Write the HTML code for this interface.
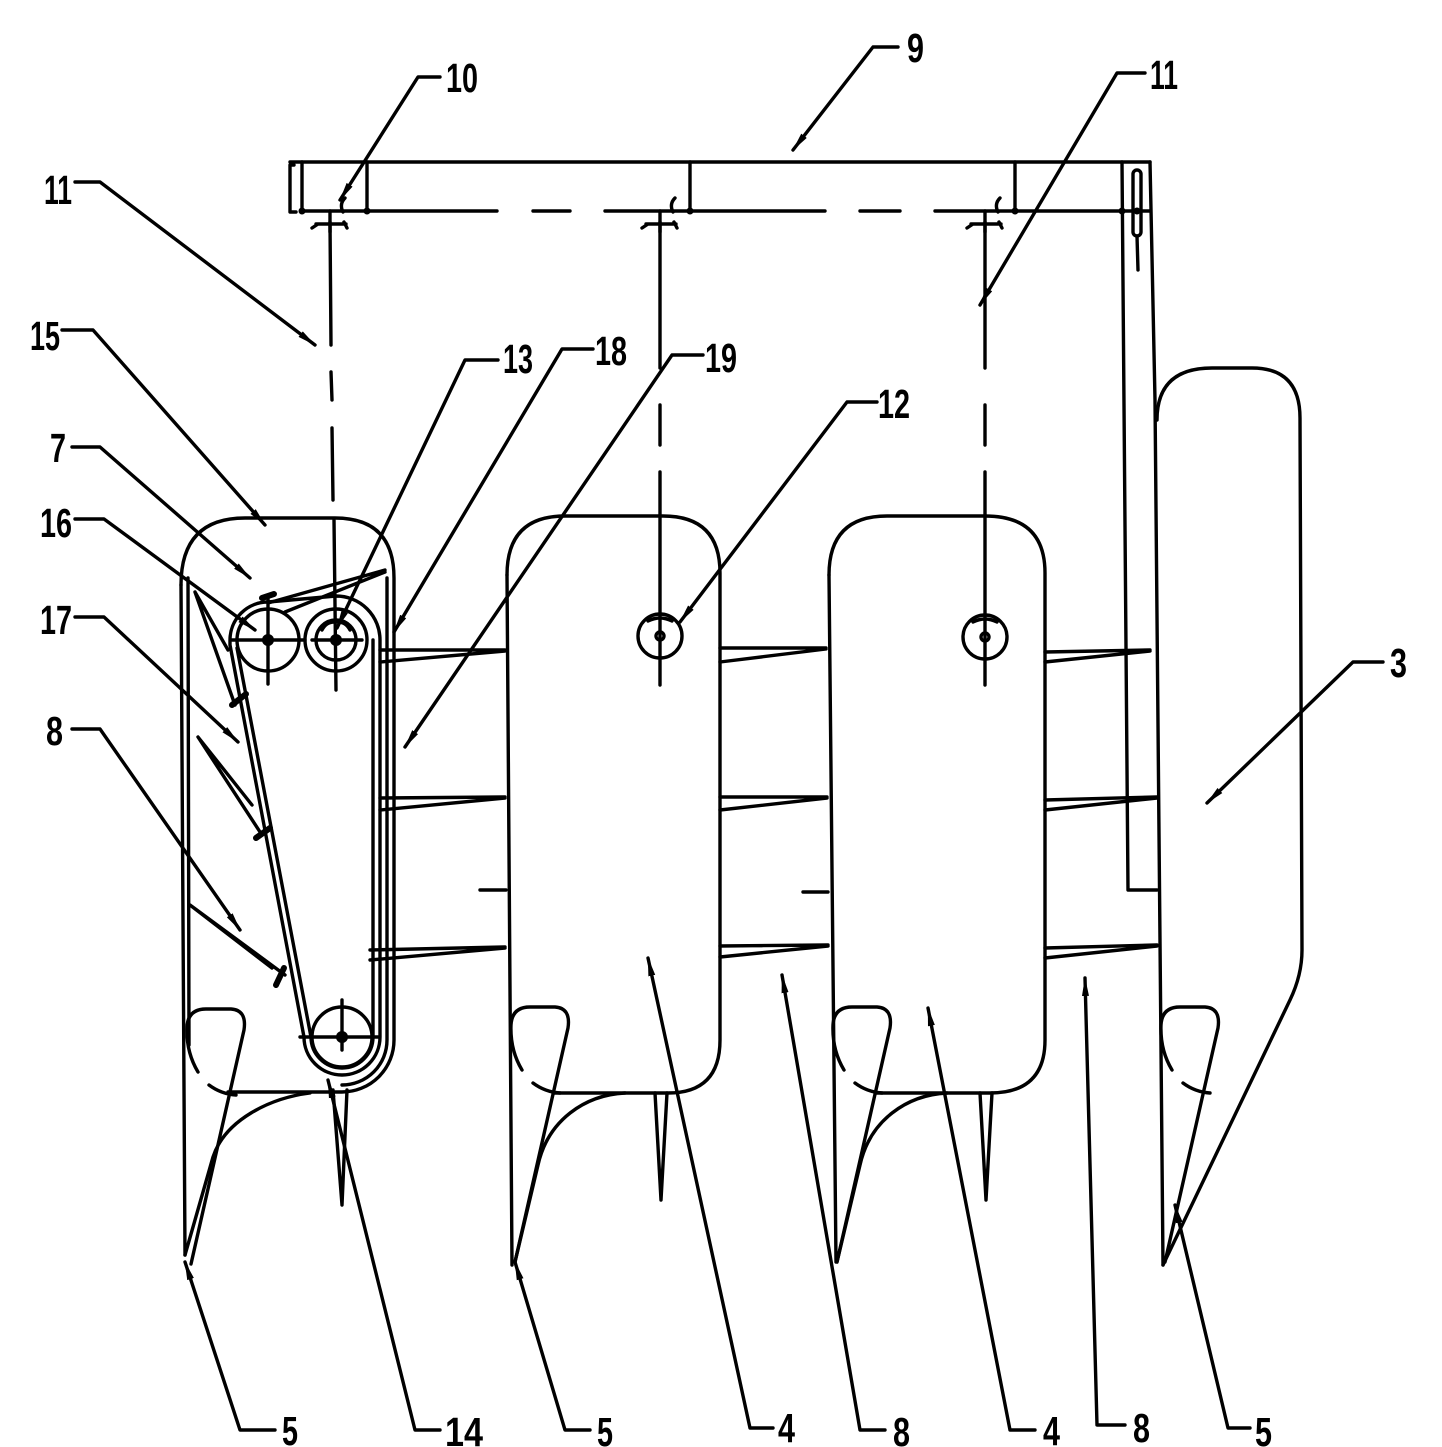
<!DOCTYPE html>
<html><head><meta charset="utf-8"><style>
html,body{margin:0;padding:0;background:#fff;}
svg{display:block;}
text{font-family:"Liberation Sans Narrow","Liberation Sans",sans-serif;font-weight:bold;font-size:41px;fill:#000;}
</style></head><body>
<svg width="1442" height="1447" viewBox="0 0 1442 1447" xmlns="http://www.w3.org/2000/svg">
<defs>
<marker id="a" markerUnits="userSpaceOnUse" markerWidth="20" markerHeight="10" refX="18" refY="5" orient="auto"><path d="M0,1.5 L19,5 L0,8.5 Z" fill="#000"/></marker>
<g id="tipshape">
<path d="M522,1070 Q510,1050 511,1025 Q512,1007 530,1007 L555,1007 Q571,1008 568,1028 L515,1262"/>
<path d="M533,1083 Q545,1092 560,1093"/>
</g>
</defs>
<g fill="none" stroke="#000" stroke-width="3.4" stroke-linecap="round" stroke-linejoin="round">

<!-- top frame -->
<path d="M290,162 L1150,162"/>
<path d="M294,165 L290,165 L290,212 L296,212"/>
<path d="M302,162 L302,212 M367,162 L367,212 M690,162 L690,212 M1015,162 L1015,212"/>
<path d="M302,211 L497,211 M533,211 L570,211 M605,211 L825,211 M860,211 L900,211 M935,211 L1150,211"/>
<path d="M1122,162 L1128,890 L1157,890"/>
<path d="M1150,162 L1155,400 L1163,1265"/>
<rect x="1133" y="170" width="8" height="66" rx="4"/>
<path d="M1137,236 L1138,270"/>

<!-- hangers -->
<path d="M316,224 L346,224 M318,224 l-6,4 M344,222 l3,6 M330,211 L330,232"/>
<path d="M343,212 q-4,-8 2,-14"/>
<path d="M646,224 L676,224 M648,224 l-6,4 M674,222 l3,6 M660,211 L660,232"/>
<path d="M673,212 q-4,-8 2,-14"/>
<path d="M971,224 L1001,224 M973,224 l-6,4 M999,222 l3,6 M985,211 L985,232"/>
<path d="M998,212 q-4,-8 2,-14"/>

<!-- centerlines -->
<path d="M330,222 L331,345 M331,372 L332,400 M332,428 L333,500 M334,520 L336,690"/>
<path d="M660,222 L660,368 M660,405 L660,445 M660,472 L660,685"/>
<path d="M985,222 L985,368 M985,405 L985,445 M985,472 L985,685"/>

<!-- unit 1 : conveyor housing -->
<path d="M181,585 Q181,518 245,518 L335,518 Q394,518 394,578 L394,1040 A52,52 0 0 1 342,1092 L228,1092"/>
<path d="M181,585 L185,1255"/>
<path d="M188,578 L189,1045"/>
<path d="M387,578 L387,1040 A45,45 0 0 1 342,1085"/>
<!-- belt -->
<path d="M230,645 L304,1037 A38,38 0 0 0 380,1037 L380,640 A44,44 0 0 0 336,596 L268,602 A38,38 0 0 0 230,640 Z"/>
<path d="M237,648 L311,1037 A31,31 0 0 0 373,1037 L373,640"/>
<!-- pulleys -->
<circle cx="268" cy="640" r="31"/>
<circle cx="336" cy="640" r="31"/>
<circle cx="336" cy="640" r="20"/>
<circle cx="342" cy="1037" r="30"/>
<path d="M232,640 L305,640 M268,598 L268,684 M312,640 L362,640 M300,1037 L378,1037 M342,1000 L342,1050"/>
<path d="M322,630 q4,-8 12,-8 M350,630 q-4,-8 -12,-8"/>
<path d="M268,603 L385,570 M285,612 L385,572"/>
<path d="M262,598 L274,594" stroke-width="6"/>
<path d="M232,705 L246,694" stroke-width="6"/>
<path d="M256,838 L270,828" stroke-width="6"/>
<path d="M276,985 L284,968" stroke-width="6"/>
<path d="M195,592 L235,705 M195,592 L228,650"/>
<path d="M198,737 L262,835 M198,737 L252,805"/>
<path d="M190,905 L285,975 M190,905 L272,968"/>
<path d="M333,1090 L342,1205 L347,1090"/>
<path d="M310,1093 C270,1098 225,1120 213,1157 L185,1255"/>
<use href="#tipshape" transform="translate(-324,2)"/>

<!-- unit 2 -->
<path d="M507,575 Q507,516 565,516 L663,516 Q720,516 720,573 L720,1040 Q720,1093 668,1093 L553,1093"/>
<path d="M507,575 L512,1265"/>
<use href="#tipshape"/>
<path d="M625,1093 C585,1095 548,1120 538,1165 L515,1262"/>
<path d="M655,1093 L661,1200 L667,1093"/>
<circle cx="660" cy="636" r="22"/>
<circle cx="660" cy="636" r="4"/>
<path d="M648,621 q12,-6 24,0"/>

<!-- unit 3 -->
<g transform="translate(322,0)">
<path d="M507,575 Q507,516 565,516 L663,516 Q723,516 723,573 L723,1040 Q723,1093 668,1093 L553,1093"/>
<path d="M507,575 L514,1262"/>
<use href="#tipshape"/>
<path d="M625,1093 C585,1095 548,1120 538,1165 L515,1262"/>
</g>
<path d="M980,1093 L986,1200 L992,1093"/>
<circle cx="985" cy="637" r="22"/>
<circle cx="985" cy="637" r="4"/>
<path d="M973,622 q12,-6 24,0"/>

<!-- component 3 -->
<path d="M1157,420 Q1157,368 1212,368 L1252,368 Q1300,368 1300,418 L1302,950 Q1302,975 1290,1000 L1163,1265"/>
<use href="#tipshape" transform="translate(650,0)"/>

<!-- fingers -->
<path d="M380,650 L505,650 M380,662 L505,651"/>
<path d="M380,798 L505,797 M380,810 L505,798"/>
<path d="M370,950 L505,947 M370,960 L505,948"/>
<path d="M480,890 L506,890"/>
<path d="M720,648 L826,648 M720,662 L826,649"/>
<path d="M720,797 L827,797 M720,810 L827,798"/>
<path d="M720,946 L828,945 M720,957 L828,946"/>
<path d="M803,892 L828,892"/>
<path d="M1045,652 L1150,650 M1045,662 L1150,651"/>
<path d="M1045,800 L1157,797 M1045,810 L1157,798"/>
<path d="M1045,948 L1157,945 M1045,958 L1157,946"/>
</g>

<!-- junction dots -->
<g fill="#000">
<circle cx="302" cy="211" r="3.5"/><circle cx="367" cy="211" r="3.5"/><circle cx="690" cy="211" r="3.5"/>
<circle cx="1015" cy="211" r="3.5"/><circle cx="1122" cy="211" r="3.5"/><circle cx="1137" cy="211" r="3.5"/>
<circle cx="268" cy="640" r="6"/><circle cx="336" cy="640" r="6"/><circle cx="342" cy="1037" r="6"/>
</g>

<!-- leaders -->
<g fill="none" stroke="#000" stroke-width="3.4" stroke-linecap="round" stroke-linejoin="round" marker-end="url(#a)">
<polyline points="898,47 873,47 793,150"/>
<polyline points="440,77 418,77 340,200"/>
<polyline points="1145,73 1117,73 980,305"/>
<polyline points="75,182 100,182 315,345"/>
<polyline points="62,330 93,330 265,525"/>
<polyline points="72,447 100,447 250,578"/>
<polyline points="75,519 104,519 255,630"/>
<polyline points="75,617 104,617 238,742"/>
<polyline points="72,729 100,729 240,930"/>
<polyline points="498,360 465,360 337,628"/>
<polyline points="593,349 562,349 394,632"/>
<polyline points="703,355 672,355 405,747"/>
<polyline points="877,402 847,402 680,622"/>
<polyline points="1383,662 1353,662 1207,803"/>
<polyline points="275,1430 240,1430 185,1262"/>
<polyline points="440,1430 415,1430 328,1080"/>
<polyline points="590,1430 565,1430 515,1262"/>
<polyline points="773,1428 750,1428 648,958"/>
<polyline points="885,1430 860,1430 782,975"/>
<polyline points="1035,1430 1010,1430 928,1008"/>
<polyline points="1125,1425 1097,1425 1085,978"/>
<polyline points="1250,1428 1228,1428 1175,1205"/>
</g>

<!-- labels -->
<text x="907" y="62" textLength="17" lengthAdjust="spacingAndGlyphs">9</text>
<text x="446" y="92" textLength="32" lengthAdjust="spacingAndGlyphs">10</text>
<text x="1150" y="89" textLength="28" lengthAdjust="spacingAndGlyphs">11</text>
<text x="44" y="204" textLength="28" lengthAdjust="spacingAndGlyphs">11</text>
<text x="30" y="350" textLength="30" lengthAdjust="spacingAndGlyphs">15</text>
<text x="50" y="462" textLength="16" lengthAdjust="spacingAndGlyphs">7</text>
<text x="40" y="537" textLength="32" lengthAdjust="spacingAndGlyphs">16</text>
<text x="40" y="634" textLength="32" lengthAdjust="spacingAndGlyphs">17</text>
<text x="46" y="745" textLength="17" lengthAdjust="spacingAndGlyphs">8</text>
<text x="503" y="373" textLength="30" lengthAdjust="spacingAndGlyphs">13</text>
<text x="595" y="365" textLength="32" lengthAdjust="spacingAndGlyphs">18</text>
<text x="705" y="372" textLength="32" lengthAdjust="spacingAndGlyphs">19</text>
<text x="878" y="418" textLength="32" lengthAdjust="spacingAndGlyphs">12</text>
<text x="1390" y="677" textLength="17" lengthAdjust="spacingAndGlyphs">3</text>
<text x="282" y="1445" textLength="16" lengthAdjust="spacingAndGlyphs">5</text>
<text x="445" y="1446" textLength="38" lengthAdjust="spacingAndGlyphs">14</text>
<text x="597" y="1446" textLength="16" lengthAdjust="spacingAndGlyphs">5</text>
<text x="778" y="1442" textLength="17" lengthAdjust="spacingAndGlyphs">4</text>
<text x="893" y="1446" textLength="17" lengthAdjust="spacingAndGlyphs">8</text>
<text x="1043" y="1445" textLength="17" lengthAdjust="spacingAndGlyphs">4</text>
<text x="1133" y="1442" textLength="17" lengthAdjust="spacingAndGlyphs">8</text>
<text x="1255" y="1446" textLength="17" lengthAdjust="spacingAndGlyphs">5</text>
</svg>
</body></html>
